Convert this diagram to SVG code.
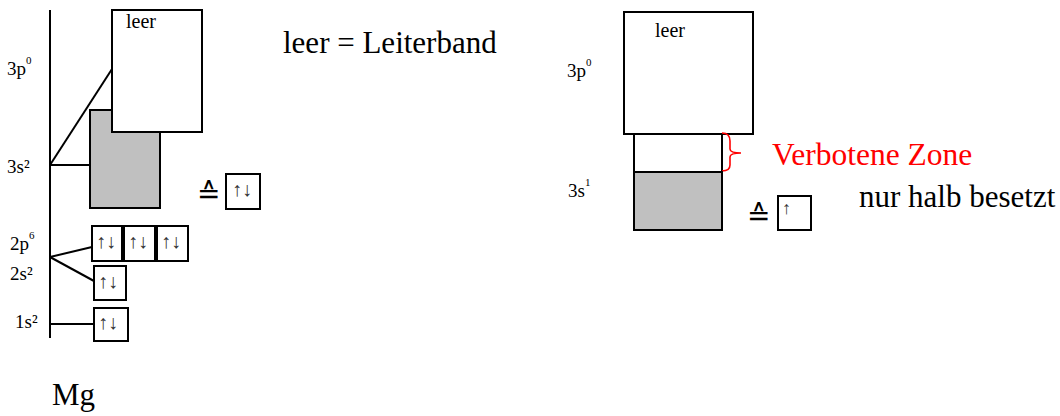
<svg xmlns="http://www.w3.org/2000/svg" width="1060" height="416" viewBox="0 0 1060 416">
<style>
.ln{stroke:#000;stroke-width:2;fill:none}
.box{stroke:#000;stroke-width:2;fill:#fff}
.gray{stroke:#000;stroke-width:2;fill:#c0c0c0}
.t{font-family:"Liberation Serif","Times New Roman",serif;fill:#000}
.big{font-size:31px}
.lab{font-size:19px}
.sup{font-size:11px}
.leer{font-size:20px}
.arr{font-family:"Liberation Serif","DejaVu Serif",serif;font-size:20px;fill:#333}
.eq{font-family:"DejaVu Sans",sans-serif;font-size:28px;fill:#000}
</style>
<rect width="1060" height="416" fill="#fff"/>
<g id="connectors">
<line class="ln" x1="50" y1="10" x2="50" y2="338"/>
<line class="ln" x1="50" y1="165" x2="112" y2="69"/>
<line class="ln" x1="50" y1="165" x2="90" y2="165"/>
<line class="ln" x1="50" y1="257" x2="92" y2="247"/>
<line class="ln" x1="50" y1="257" x2="94" y2="281"/>
<line class="ln" x1="50" y1="324" x2="94" y2="324"/>
</g>
<g id="labels-left">
<text class="t lab" x="7" y="75">3p<tspan class="sup" dy="-11">0</tspan></text>
<text class="t lab" x="7" y="173">3s²</text>
<text class="t lab" x="10" y="250">2p<tspan class="sup" dy="-11">6</tspan></text>
<text class="t lab" x="10" y="280">2s²</text>
<text class="t lab" x="15" y="328">1s²</text>
<text class="t big" x="52" y="405">Mg</text>
</g>
<g id="band-3s-left">
<rect class="gray" x="90" y="110" width="70" height="98"/>
</g>
<g id="band-3p-left">
<rect class="box" x="112" y="10" width="90" height="122"/>
<text class="t leer" x="126" y="28">leer</text>
</g>
<g id="legend">
<text class="t big" x="283" y="53">leer = Leiterband</text>
</g>
<g id="equiv-left">
<text class="eq" x="197" y="203">≙</text>
<rect class="box" x="226" y="174" width="34" height="35"/>
<text class="arr" x="232" y="196">↑↓</text>
</g>
<g id="orb-2p">
<rect class="box" x="92" y="226" width="30" height="35"/>
<text class="arr" x="96" y="248">↑↓</text>
<rect class="box" x="124" y="226" width="31" height="35"/>
<text class="arr" x="128" y="248">↑↓</text>
<rect class="box" x="157" y="226" width="31" height="35"/>
<text class="arr" x="161" y="248">↑↓</text>
</g>
<g id="orb-2s">
<rect class="box" x="94" y="266" width="32" height="34"/>
<text class="arr" x="98" y="288">↑↓</text>
</g>
<g id="orb-1s">
<rect class="box" x="94" y="308" width="34" height="33"/>
<text class="arr" x="98" y="329">↑↓</text>
</g>
<g id="band-3p-right">
<rect class="box" x="624" y="12" width="129" height="122"/>
<text class="t leer" x="655" y="37">leer</text>
<text class="t lab" x="567" y="77">3p<tspan class="sup" dy="-11">0</tspan></text>
</g>
<g id="forbidden-zone">
<rect class="box" x="634" y="134" width="88" height="38"/>
<path d="M722,133 Q730,133 730,141 L730,149 Q730,153 741,153 Q730,153 730,157 L730,165 Q730,171 722,171" fill="none" stroke="#f00" stroke-width="1.6"/>
<text class="t big" x="772" y="165" style="fill:#f00;font-size:31.5px">Verbotene Zone</text>
</g>
<g id="band-3s-right">
<rect class="gray" x="634" y="172" width="88" height="58"/>
<text class="t lab" x="568" y="197">3s<tspan class="sup" dy="-11">1</tspan></text>
</g>
<g id="equiv-right">
<text class="eq" x="747" y="225">≙</text>
<rect class="box" x="778" y="196" width="33" height="34"/>
<text class="arr" x="782" y="214" style="font-size:18px">↑</text>
<text class="t big" x="859" y="207">nur halb besetzt</text>
</g>
</svg>
